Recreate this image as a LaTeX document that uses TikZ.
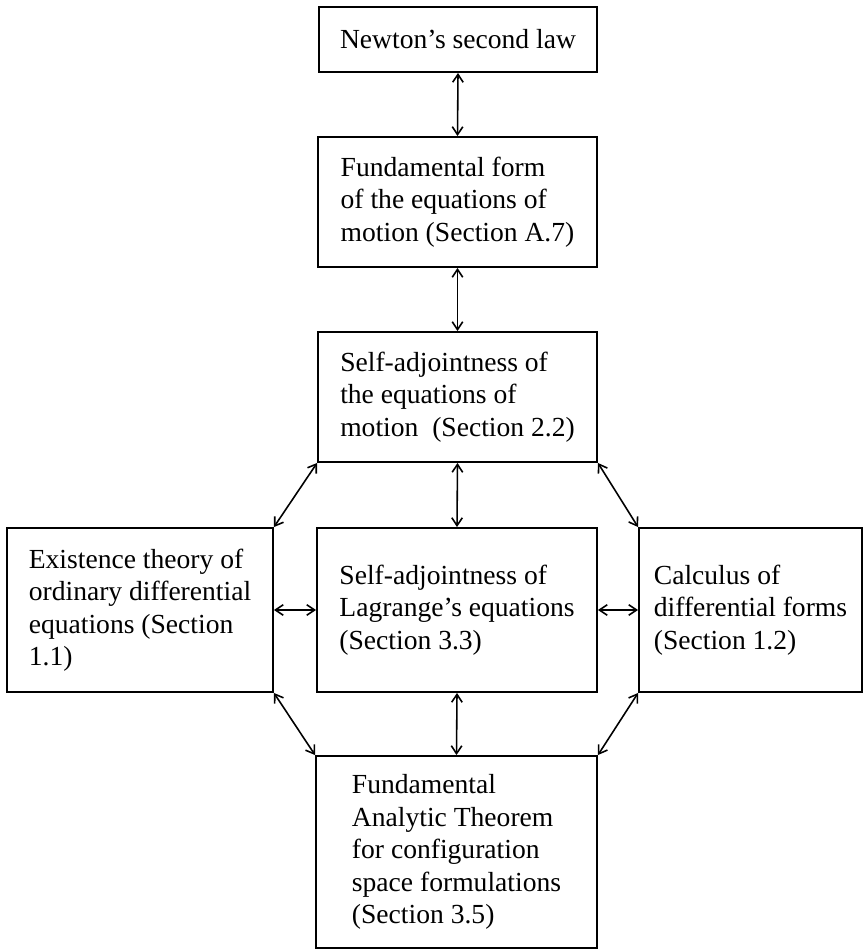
\documentclass[tikz,border=0pt]{standalone}
\usepackage{fontspec}
\setmainfont{Liberation Serif}
\usetikzlibrary{arrows.meta}

\begin{document}
\begin{tikzpicture}[x=0.02cm,y=-0.02cm,
  box/.style={draw,line width=1.1pt,align=left,inner sep=0pt,font=\fontsize{15.7}{18.5}\selectfont},
  link/.style={line width=0.9pt,{Straight Barb[length=4.5pt,width=6pt]}-{Straight Barb[length=4.5pt,width=6pt]}}]
  \useasboundingbox (0,0) rectangle (863,950);
  \node[box,minimum width=5.56cm,minimum height=1.3cm] (newton) at (458,39.5){Newton's second law};
  \node[box,minimum width=5.58cm,minimum height=2.6cm] (fundform) at (457.5,202){Fundamental form\\of the equations of\\motion (Section A.7)};
  \node[box,minimum width=5.58cm,minimum height=2.6cm] (motion) at (457.5,397){Self-adjointness of\\the equations of\\motion\ \ (Section 2.2)};
  \node[box,minimum width=5.6cm,minimum height=3.28cm] (lagrange) at (457,610){Self-adjointness of\\Lagrange's equations\\(Section 3.3)};
  \node[box,minimum width=5.32cm,minimum height=3.28cm] (existence) at (140,610){Existence theory of\\ordinary differential\\equations (Section\\1.1)};
  \node[box,minimum width=4.46cm,minimum height=3.28cm] (calculus) at (750.5,610){Calculus of\\differential forms\\(Section 1.2)};
  \node[box,minimum width=5.62cm,minimum height=3.84cm] (analytic) at (456.5,852){Fundamental\\Analytic Theorem\\for configuration\\space formulations\\(Section 3.5)};
  \draw[link] (newton.south) -- (fundform.north);
  \draw[link] (fundform.south) -- (motion.north);
  \draw[link] (motion.south) -- (lagrange.north);
  \draw[link] (lagrange.south) -- (analytic.north);
  \draw[link] (existence.east) -- (lagrange.west);
  \draw[link] (lagrange.east) -- (calculus.west);
  \draw[link] (motion.south west) -- (existence.north east);
  \draw[link] (motion.south east) -- (calculus.north west);
  \draw[link] (existence.south east) -- (analytic.north west);
  \draw[link] (calculus.south west) -- (analytic.north east);
\end{tikzpicture}
\end{document}
